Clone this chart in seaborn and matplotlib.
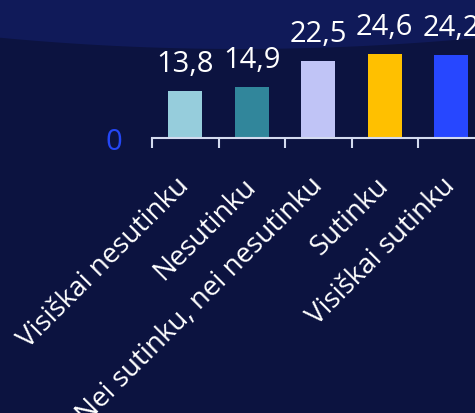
import numpy as np
import pandas as pd
import matplotlib
matplotlib.use("Agg")
import matplotlib.pyplot as plt
from matplotlib.patches import Polygon
import seaborn as sns

categories = ["Visiškai nesutinku", "Nesutinku", "Nei sutinku, nei nesutinku", "Sutinku", "Visiškai sutinku"]
values = [13.8, 14.9, 22.5, 24.6, 24.2]
value_labels = ["13,8", "14,9", "22,5", "24,6", "24,2"]
bar_colors = ["#96cddc", "#31869b", "#c0c4f6", "#ffc000", "#2747ff"]
y_tick_values = [0]
y_tick_labels = ["0"]

sns.set_style("white")
plt.rcParams['font.family'] = ['Open Sans', 'DejaVu Sans']

W, H = 475, 414
fig = plt.figure(figsize=(W / 100, H / 100), dpi=100)
bg_dark = "#0c1340"
bg_band = "#101a59"
fig.patch.set_facecolor(bg_dark)

# lighter curved band at the top of the slide
xs = np.linspace(0, W, 80)
ys = 50 - 11 * ((xs - 240) / 237) ** 2
pts = [(x / W, 1 - y / H) for x, y in zip(xs, ys)] + [(1, 1), (0, 1)]
fig.add_artist(Polygon(pts, closed=True, transform=fig.transFigure,
                       facecolor=bg_band, edgecolor='none', zorder=-5))

ax = fig.add_axes([152 / W, (H - 139) / H, 332.5 / W, 139 / H])
ax.set_facecolor('none')

df = pd.DataFrame({'cat': categories, 'val': values})
sns.barplot(data=df, x='cat', y='val', hue='cat', palette=bar_colors,
            width=0.51, saturation=1, legend=False, ax=ax,
            edgecolor='none', linewidth=0)

ax.set_xlim(-0.5, len(categories) - 0.5)
ax.set_ylim(0, 40.76)
ax.set_xlabel('')
ax.set_ylabel('')

for s in ['top', 'right', 'left']:
    ax.spines[s].set_visible(False)
axis_col = '#d4dbef'
ax.spines['bottom'].set_color(axis_col)
ax.spines['bottom'].set_linewidth(1.5)

ax.set_xticks(range(len(categories)))
ax.set_xticks(np.arange(-0.5, len(categories) + 0.5, 1), minor=True)
ax.set_xticklabels(categories, rotation=45, ha='right', va='center',
                   rotation_mode='anchor', fontsize=20, color='white')
ax.tick_params(axis='x', which='major', bottom=True, length=0, pad=31)
ax.tick_params(axis='x', which='minor', bottom=True, length=7.2, width=1.5,
               color=axis_col, direction='out')

ax.set_yticks(y_tick_values)
ax.set_yticklabels(y_tick_labels, fontsize=21, color='#2447f5')
ax.tick_params(axis='y', length=0, pad=21.6)

for i, (v, lab) in enumerate(zip(values, value_labels)):
    ax.annotate(lab, xy=(i, v), xytext=(0, 20), textcoords='offset pixels',
                ha='center', va='baseline', color='white', fontsize=21,
                annotation_clip=False)

fig.savefig('out.png', dpi=100, facecolor=fig.get_facecolor())
